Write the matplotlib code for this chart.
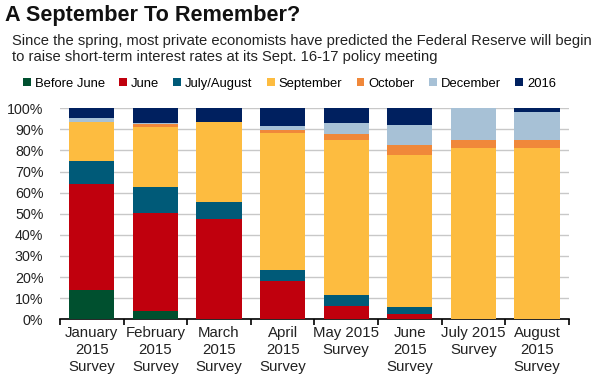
#!/usr/bin/env python3
"""Stacked bar chart: when economists expect the Fed's first rate hike, by survey month."""

import matplotlib

matplotlib.use("Agg")
import matplotlib.pyplot as plt
from matplotlib.patches import Patch
from matplotlib.ticker import FuncFormatter, MultipleLocator

plt.rcParams["font.family"] = ["Liberation Sans", "DejaVu Sans"]

surveys = [
    "January\n2015\nSurvey",
    "February\n2015\nSurvey",
    "March\n2015\nSurvey",
    "April\n2015\nSurvey",
    "May 2015\nSurvey",
    "June\n2015\nSurvey",
    "July 2015\nSurvey",
    "August\n2015\nSurvey",
]
series_names = ["Before June", "June", "July/August", "September", "October", "December", "2016"]

# percent of respondents
before_june = [13.7, 3.9, 0.0, 0.0, 0.0, 0.0, 0.0, 0.0]
june = [50.2, 46.6, 47.3, 18.0, 6.3, 2.7, 0.0, 0.0]
july_august = [10.9, 12.1, 8.2, 5.2, 5.1, 3.1, 0.0, 0.0]
september = [18.9, 28.4, 37.9, 65.1, 73.5, 72.0, 81.4, 81.4]
october = [0.0, 1.4, 0.0, 1.6, 3.1, 4.8, 3.6, 3.6]
december = [1.6, 0.6, 0.0, 1.6, 5.1, 9.5, 15.0, 13.3]
y2016 = [4.7, 7.0, 6.6, 8.5, 6.9, 7.9, 0.0, 1.7]

colors = ["#00502f", "#c0000d", "#005a78", "#fdbc40", "#f0883a", "#a7c1d6", "#00205f"]

fig = plt.figure(figsize=(6.0, 3.76), dpi=100)
ax = fig.add_axes([0.1, 0.151, 0.848, 0.561])

series = [before_june, june, july_august, september, october, december, y2016]
x = list(range(len(surveys)))
bottom = [0.0] * len(surveys)
for vals, col in zip(series, colors):
    ax.bar(x, vals, width=0.71, bottom=bottom, color=col, zorder=3)
    bottom = [b + v for b, v in zip(bottom, vals)]

ax.set_xlim(-0.5, len(surveys) - 0.5)
ax.set_ylim(0, 100)
ax.yaxis.set_major_locator(MultipleLocator(10))
ax.yaxis.set_major_formatter(FuncFormatter(lambda v, _: f"{v:.0f}%"))
ax.grid(axis="y", color="#c8c8c8", linewidth=1.0, zorder=0)

for side in ("top", "right", "left"):
    ax.spines[side].set_visible(False)
ax.spines["bottom"].set_color("black")
ax.spines["bottom"].set_linewidth(1.2)

ax.tick_params(axis="y", length=0, pad=12, labelsize=10.3, labelcolor="#222222")
ax.set_xticks(x)
ax.set_xticklabels(surveys, fontsize=10.8, color="#222222", linespacing=1.25)
ax.tick_params(axis="x", length=0, pad=5)
ax.set_xticks([i - 0.5 for i in range(len(surveys) + 1)], minor=True)
ax.tick_params(axis="x", which="minor", length=4, width=1.2, color="black", direction="out")

fig.text(0.009, 0.96, "A September To Remember?", fontsize=15.6, fontweight="bold",
         color="#111111", va="center")
fig.text(0.02, 0.87,
         "Since the spring, most private economists have predicted the Federal Reserve will begin\n"
         "to raise short-term interest rates at its Sept. 16-17 policy meeting",
         fontsize=10.6, color="#222222", va="center", linespacing=1.2)

handles = [Patch(facecolor=c, edgecolor="none") for c in colors]
fig.legend(handles, series_names, loc="center left", bbox_to_anchor=(0.038, 0.777),
           ncol=7, frameon=False, fontsize=9.4, handlelength=0.6, handleheight=0.6,
           handletextpad=0.3, columnspacing=1.1, borderaxespad=0, borderpad=0)

fig.savefig("out.png", dpi=100)
